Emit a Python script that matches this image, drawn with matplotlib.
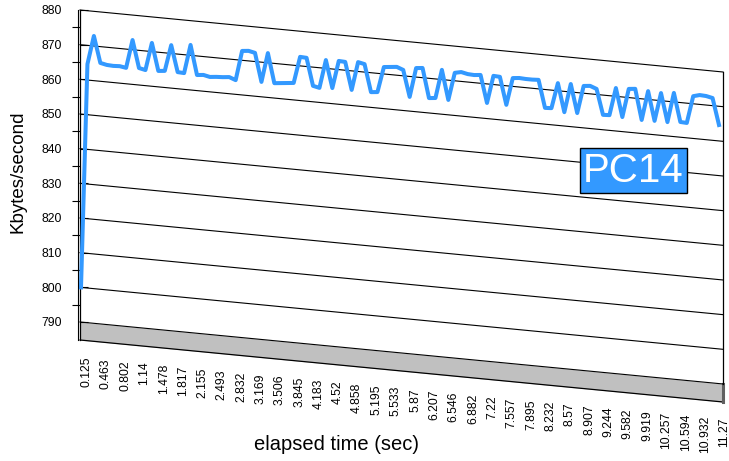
import numpy as np
import matplotlib
matplotlib.use("Agg")
import matplotlib.pyplot as plt
from matplotlib.transforms import Affine2D
from matplotlib.ticker import FixedLocator

plt.rcParams['font.family'] = ['Liberation Sans', 'DejaVu Sans']

# Throughput samples (Kbytes/second), one per sample interval
kbps = [
    800.0, 864.6, 872.9, 865.3, 864.9, 864.8, 864.9, 864.6, 872.8, 864.9,
    864.5, 872.5, 864.6, 864.8, 872.4, 864.8, 864.7, 873.0, 864.5, 864.7,
    864.3, 864.5, 864.6, 864.8, 864.1, 872.7, 872.9, 872.5, 864.3, 872.8,
    864.3, 864.5, 864.7, 864.9, 872.6, 872.5, 864.6, 864.2, 872.4, 864.5,
    872.5, 872.4, 864.5, 872.7, 872.3, 864.4, 864.6, 872.0, 872.2, 872.4,
    871.7, 864.1, 872.6, 872.8, 864.3, 864.5, 872.8, 864.3, 872.3, 872.7,
    872.3, 872.2, 872.4, 864.5, 872.5, 872.4, 864.5, 872.4, 872.6, 872.5,
    872.5, 872.6, 864.7, 864.8, 872.2, 864.0, 872.3, 864.1, 872.1, 872.3,
    871.6, 864.3, 864.4, 872.4, 864.2, 872.5, 872.7, 863.9, 872.4, 864.0,
    872.2, 864.0, 872.6, 864.4, 864.3, 872.2, 872.7, 872.6, 872.2, 864.6,
]

# Category labels (every third sample)
time_labels = [
    "0.125", "0.463", "0.802", "1.14", "1.478", "1.817", "2.155", "2.493",
    "2.832", "3.169", "3.506", "3.845", "4.183", "4.52", "4.858", "5.195",
    "5.533", "5.87", "6.207", "6.546", "6.882", "7.22", "7.557", "7.895",
    "8.232", "8.57", "8.907", "9.244", "9.582", "9.919", "10.257", "10.594",
    "10.932", "11.27",
]
label_step = 3
y_ticks = list(range(790, 881, 10))
series_name = "PC14"

blue = '#3399ff'
W, H = 729, 461

fig = plt.figure(figsize=(W / 100, H / 100), dpi=100)
ax = fig.add_axes([80 / W, 1 - 340 / H, 643 / W, 330 / H])

xmin, xmax = -0.155, 99.62
floor_lo = 784.8
ax.set_xlim(xmin, xmax)
ax.set_ylim(floor_lo, 880)

# perspective: back wall slopes down to the right
wall = ax.transScale + ax.transLimits + \
    Affine2D().skew(0, np.arctan(-62 / 330)) + ax.transAxes

# floor
ax.fill_between([xmin, xmax], floor_lo, 790, color='#c0c0c0',
                transform=wall, clip_on=False, zorder=1, lw=0)
ax.plot([xmin, xmax], [floor_lo, floor_lo], color='k', lw=0.9,
        transform=wall, clip_on=False, zorder=2)
ax.plot([xmax, xmax], [floor_lo, 790], color='#606060', lw=2.2,
        transform=wall, clip_on=False, zorder=2)

# gridlines on the back wall
for v in y_ticks:
    ax.plot([xmin, xmax], [v, v], color='k', lw=0.8,
            transform=wall, clip_on=False, zorder=2)
ax.plot([xmax, xmax], [790, 880], color='k', lw=0.9,
        transform=wall, clip_on=False, zorder=2)
ax.plot([xmin - 0.31, xmin - 0.31], [floor_lo, 880], color='k', lw=0.8,
        transform=wall, clip_on=False, zorder=2)

# data line
x = np.arange(len(kbps))
ax.plot(x, kbps, color=blue, lw=2.9, transform=wall, clip_on=False, zorder=3)

# category labels
for k, lab in enumerate(time_labels):
    ax.text(k * label_step + 0.85, 780.3, lab, transform=wall, rotation=90,
            ha='center', va='top', fontsize=8.7)

# value axis
ax.yaxis.set_major_locator(FixedLocator(y_ticks))
ax.yaxis.set_minor_locator(FixedLocator(np.arange(795, 880, 10)))
ax.tick_params(axis='y', which='major', direction='in', length=5.8,
               width=0.8, labelsize=8.7, pad=13)
ax.tick_params(axis='y', which='minor', direction='out', length=5.8, width=0.8)
ax.set_xticks([])
for s in ['top', 'right', 'bottom']:
    ax.spines[s].set_visible(False)
ax.spines['left'].set_linewidth(0.9)
ax.patch.set_alpha(0)

fig.text(18 / W, 1 - 172 / H, 'Kbytes/second', rotation=90,
         ha='center', va='center', fontsize=13.5)
fig.text(337 / W, 1 - 444 / H, 'elapsed time (sec)',
         ha='center', va='center', fontsize=14.5)

fig.text(633.5 / W, 1 - 170.5 / H, series_name, ha='center', va='center',
         fontsize=29, color='white',
         bbox=dict(boxstyle='square,pad=0.08', facecolor=blue,
                   edgecolor='k', lw=1))

fig.savefig('out.png', dpi=100)
